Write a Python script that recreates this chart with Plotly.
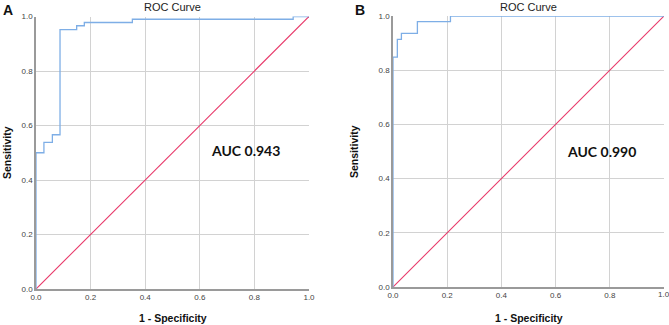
import plotly.graph_objects as go

# Panel A ROC corner points (1 - specificity, sensitivity)
fpr_a = [0.0, 0.0, 0.029, 0.060, 0.088, 0.149, 0.177, 0.353, 0.942, 1.0]
tpr_a = [0.0, 0.500, 0.538, 0.566, 0.952, 0.966, 0.978, 0.990, 1.0, 1.0]
# Panel B ROC corner points
fpr_b = [0.0, 0.0, 0.016, 0.031, 0.090, 0.212, 1.0]
tpr_b = [0.0, 0.848, 0.914, 0.936, 0.979, 1.0, 1.0]
diag = [0.0, 1.0]
auc_labels = ["AUC 0.943", "AUC 0.990"]
panel_labels = ["A", "B"]
tick_vals = [0.0, 0.2, 0.4, 0.6, 0.8, 1.0]

BLUE = "#7eaee6"
RED = "#e8396a"
GRID = "#d2d2d2"
AXIS = "#9a9a9a"

fig = go.Figure()
fig.add_trace(go.Scatter(x=diag, y=diag, mode="lines", line=dict(color=RED, width=1.1),
                         xaxis="x", yaxis="y", showlegend=False))
fig.add_trace(go.Scatter(x=fpr_a, y=tpr_a, mode="lines", line=dict(color=BLUE, width=1.3, shape="hv"),
                         xaxis="x", yaxis="y", showlegend=False))
fig.add_trace(go.Scatter(x=diag, y=diag, mode="lines", line=dict(color=RED, width=1.1),
                         xaxis="x2", yaxis="y2", showlegend=False))
fig.add_trace(go.Scatter(x=fpr_b, y=tpr_b, mode="lines", line=dict(color=BLUE, width=1.3, shape="hv"),
                         xaxis="x2", yaxis="y2", showlegend=False))

W, H = 669, 325
def px(x):
    return x / W
def py(y):
    return 1 - y / H

tick_font = dict(family="Liberation Sans, Arial", size=8, color="#444")
ax_common = dict(range=[0, 1], tickvals=tick_vals, tickformat=".1f", showgrid=True,
                 gridcolor=GRID, gridwidth=1, zeroline=False, showline=True,
                 linecolor=AXIS, linewidth=1.5, ticks="", fixedrange=True, automargin=False,
                 tickfont=tick_font)

fig.update_layout(
    width=W, height=H, margin=dict(l=0, r=0, t=0, b=0, autoexpand=False),
    paper_bgcolor="white", plot_bgcolor="white",
    xaxis=dict(domain=[px(36), px(309)], anchor="y", **ax_common),
    yaxis=dict(domain=[py(289), py(16.5)], anchor="x", **ax_common),
    xaxis2=dict(domain=[px(393), px(664)], anchor="y2", **ax_common),
    yaxis2=dict(domain=[py(287), py(16)], anchor="x2", **ax_common),
)

ann = []
font_title = dict(family="Liberation Sans, Arial", size=11, color="#222")
font_ax = dict(family="Liberation Sans, Arial", size=10.5, color="#111")
centers = [(36 + 309) / 2, (393 + 664) / 2]
for i, c in enumerate(centers):
    ann.append(dict(x=px(c), y=py(7), xref="paper", yref="paper", text="ROC Curve",
                    showarrow=False, font=font_title, xanchor="center", yanchor="middle"))
    ann.append(dict(x=px(c), y=py(318), xref="paper", yref="paper", text="<b>1 - Specificity</b>",
                    showarrow=False, font=font_ax, xanchor="center", yanchor="middle"))
ann.append(dict(x=px(7), y=py(153), xref="paper", yref="paper", text="<b>Sensitivity</b>",
                showarrow=False, font=font_ax, textangle=-90, xanchor="center", yanchor="middle"))
ann.append(dict(x=px(354), y=py(152), xref="paper", yref="paper", text="<b>Sensitivity</b>",
                showarrow=False, font=font_ax, textangle=-90, xanchor="center", yanchor="middle"))
ann.append(dict(x=px(8), y=py(10), xref="paper", yref="paper", text="<b>A</b>",
                showarrow=False, font=dict(family="Liberation Sans, Arial", size=14, color="#111"),
                xanchor="center", yanchor="middle"))
ann.append(dict(x=px(360), y=py(10), xref="paper", yref="paper", text="<b>B</b>",
                showarrow=False, font=dict(family="Liberation Sans, Arial", size=14, color="#111"),
                xanchor="center", yanchor="middle"))
# last x tick label of panel B sits at the page edge
ann.append(dict(x=1.0, y=0, xref="x2", yref="y2", yshift=-7, text="1.0",
                showarrow=False, font=tick_font, xanchor="center", yanchor="middle"))
ann.append(dict(x=0.767, y=0.51, xref="x", yref="y", text="<b>" + auc_labels[0] + "</b>",
                showarrow=False, font=dict(family="Lato, Liberation Sans", size=14, color="#111"),
                xanchor="center", yanchor="middle"))
ann.append(dict(x=0.77, y=0.50, xref="x2", yref="y2", text="<b>" + auc_labels[1] + "</b>",
                showarrow=False, font=dict(family="Lato, Liberation Sans", size=14, color="#111"),
                xanchor="center", yanchor="middle"))
fig.update_layout(annotations=ann)

fig.write_html("out.html", config={"displayModeBar": False},
               post_script="document.body.style.margin='0';document.body.style.overflow='hidden';")
